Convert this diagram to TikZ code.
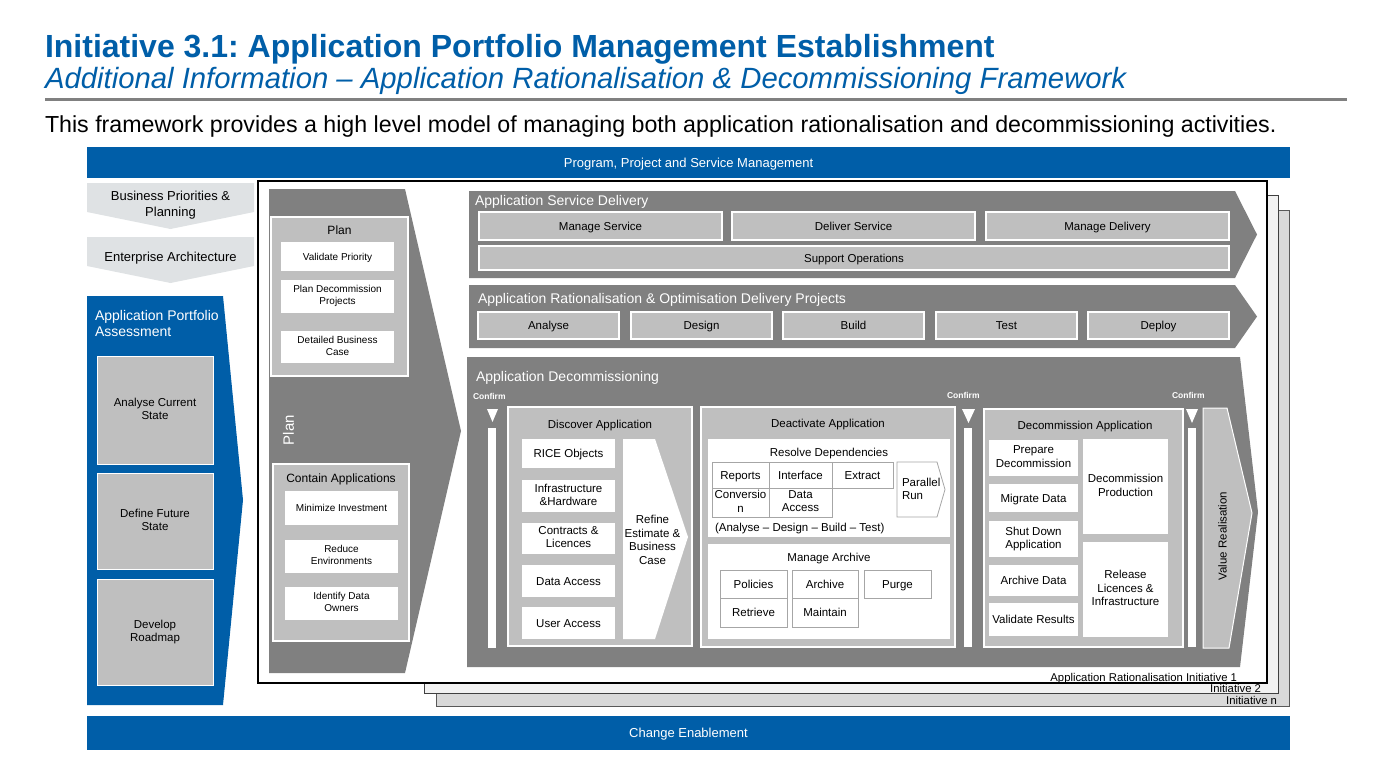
\documentclass[tikz,border=0pt]{standalone}
\usepackage{fontspec}
\setmainfont{Liberation Sans}
\usetikzlibrary{positioning}

\definecolor{apmblue}{RGB}{0,94,168}
\definecolor{chevgrey}{RGB}{128,128,128}
\definecolor{boxgrey}{RGB}{191,191,191}
\definecolor{paleband}{RGB}{223,226,228}
\definecolor{cellline}{RGB}{166,166,166}
\definecolor{initn}{RGB}{217,217,217}
\definecolor{inittwo}{RGB}{242,242,242}

% strut that keeps capitals centred in a node
\newcommand{\capstrut}{\rule[-0.23em]{0pt}{1.176em}}

\begin{document}
\frenchspacing
\begin{tikzpicture}[x=1pt, y=-1pt,
  every node/.style={inner sep=0pt, outer sep=0pt},
  txt/.style={font=\fontsize{11.5}{13.5}\selectfont, align=center, text=black,
    execute at begin node=\capstrut, execute at end node=\capstrut},
  smalltxt/.style={font=\fontsize{10}{12}\selectfont, align=center, text=black,
    execute at begin node=\capstrut, execute at end node=\capstrut},
  chevhead/.style={font=\fontsize{14}{16.5}\selectfont, text=white, anchor=west,
    execute at begin node=\capstrut},
  card/.style={fill=white, txt},
  smallcard/.style={fill=white, smalltxt, minimum width=113pt},
  greybox/.style={fill=boxgrey, draw=white, line width=1.2pt},
  cell/.style={fill=white, draw=cellline, line width=0.8pt, txt},
  banner/.style={fill=apmblue, text=white, font=\fontsize{13}{15}\selectfont, minimum width=1203pt,
    execute at begin node=\capstrut},
  confirmlbl/.style={font=\bfseries\fontsize{8.5}{10}\selectfont, text=white, anchor=west},
  initlbl/.style={font=\fontsize{11.3}{13}\selectfont, anchor=base east}
]
\useasboundingbox (0,0) rectangle (1380,756);

% heading
\node[anchor=base west, text=apmblue, font=\bfseries\fontsize{32}{38}\selectfont] (title) at (45,57)
  {Initiative 3.1: Application Portfolio Management Establishment};
\node[anchor=base west, text=apmblue, font=\itshape\fontsize{29.3}{34}\selectfont] (subtitle) at (45,88)
  {Additional Information – Application Rationalisation \& Decommissioning Framework};
\draw[chevgrey, line width=3.5pt] (45,99.5) -- (1347,99.5);
\node[anchor=base west, font=\fontsize{23.2}{27}\selectfont] (intro) at (45,132)
  {This framework provides a high level model of managing both application rationalisation and decommissioning activities.};

% banners
\node[banner, minimum height=31pt] (ppsm) at (688.5,162.5) {Program, Project and Service Management};
\node[banner, minimum height=34pt] (change) at (688.5,733) {Change Enablement};

% left column
\fill[paleband] (87,183) -- (254,183) -- (254,212) -- (170.5,229) -- (87,212) -- cycle;
\node[txt, font=\fontsize{13}{16}\selectfont] (bpp) at (170.5,205) {Business Priorities \&\\Planning};
\fill[paleband] (87,237) -- (254,237) -- (254,266) -- (170.5,283) -- (87,266) -- cycle;
\node[txt, font=\fontsize{13}{16}\selectfont] (ea) at (170.5,257) {Enterprise Architecture};

\fill[apmblue] (87,296) -- (223,296) -- (243,500) -- (223,705) -- (87,705) -- cycle;
\node[anchor=north west, align=left, text=white, font=\fontsize{14}{16.5}\selectfont] (apa) at (95,310)
  {Application Portfolio\\Assessment};
\node[greybox, txt, minimum width=116pt, minimum height=108pt, line width=1pt] (current) at (155,410) {Analyse Current\\State};
\node[greybox, txt, minimum width=116pt, minimum height=96pt, line width=1pt] (future) at (155,521) {Define Future\\State};
\node[greybox, txt, minimum width=116pt, minimum height=106pt, line width=1pt] (roadmap) at (155,632) {Develop\\Roadmap};

% initiative stack
\draw[fill=initn, draw=black!65, line width=1pt] (436,210) rectangle (1289,706);
\draw[fill=inittwo, draw=black!75, line width=1pt] (424,195) rectangle (1278,693);
\draw[fill=white, draw=black, line width=1.2pt] (258,181) rectangle (1267,683);
\node[initlbl] (initnlbl) at (1277,704) {Initiative n};
\node[initlbl] (init2lbl) at (1261,692) {Initiative 2};
\node[initlbl] (init1lbl) at (1237,681) {Application Rationalisation Initiative 1};

% plan chevron
\fill[chevgrey] (269,189) -- (405,189) -- (461,431) -- (405,673) -- (269,673) -- cycle;
\node[rotate=90, text=white, font=\fontsize{15}{18}\selectfont] (plantag) at (288.5,430) {Plan};
\node[greybox, minimum width=137pt, minimum height=159pt] (planbox) at (339.5,296.5) {};
\node[txt, font=\fontsize{12}{14}\selectfont] (planhead) at (339.5,230) {Plan};
\node[smallcard, minimum height=29pt] (validate) at (337.5,256.5) {Validate Priority};
\node[smallcard, minimum height=33pt] (plandecom) at (337.5,296.5) {Plan Decommission\\Projects};
\node[smallcard, minimum height=32pt] (bizcase) at (337.5,347) {Detailed Business\\Case};
\node[greybox, minimum width=136pt, minimum height=177pt] (containbox) at (341,552.5) {};
\node[txt, font=\fontsize{12}{14}\selectfont] (containhead) at (341,478) {Contain Applications};
\node[smallcard, minimum height=34pt] (mininv) at (341.5,508) {Minimize Investment};
\node[smallcard, minimum height=33pt] (reduce) at (341.5,556.5) {Reduce\\Environments};
\node[smallcard, minimum height=33pt] (owners) at (341.5,603.5) {Identify Data\\Owners};

% application service delivery
\fill[chevgrey] (469,191) -- (1235,191) -- (1257,234.5) -- (1235,278) -- (469,278) -- cycle;
\node[chevhead] (asd) at (475,200) {Application Service Delivery};
\node[greybox, txt, minimum width=243pt, minimum height=28pt] (mservice) at (600.5,226) {Manage Service};
\node[greybox, txt, minimum width=243pt, minimum height=28pt] (dservice) at (853.5,226) {Deliver Service};
\node[greybox, txt, minimum width=243pt, minimum height=28pt] (mdelivery) at (1107.5,226) {Manage Delivery};
\node[greybox, txt, minimum width=750pt, minimum height=24pt] (supops) at (854,258) {Support Operations};

% rationalisation and optimisation projects
\fill[chevgrey] (469,285) -- (1235,285) -- (1257,316.5) -- (1235,348) -- (469,348) -- cycle;
\node[chevhead] (arodp) at (478,298) {Application Rationalisation \& Optimisation Delivery Projects};
\node[greybox, txt, minimum width=141pt, minimum height=27pt] (analyse) at (548.5,325.5) {Analyse};
\node[greybox, txt, minimum width=141pt, minimum height=27pt] (design) at (701.5,325.5) {Design};
\node[greybox, txt, minimum width=141pt, minimum height=27pt] (build) at (853.5,325.5) {Build};
\node[greybox, txt, minimum width=141pt, minimum height=27pt] (test) at (1006.5,325.5) {Test};
\node[greybox, txt, minimum width=141pt, minimum height=27pt] (deploy) at (1158.5,325.5) {Deploy};

% application decommissioning
\fill[chevgrey] (467,357) -- (1240,357) -- (1258,512) -- (1240,667) -- (467,667) -- cycle;
\node[chevhead] (adecom) at (476,376) {Application Decommissioning};
\node[confirmlbl] (conf1) at (473,396) {Confirm};
\node[confirmlbl] (conf2) at (947,395) {Confirm};
\node[confirmlbl] (conf3) at (1172,395) {Confirm};
\fill[white] (487,409) -- (498,409) -- (492.5,422) -- cycle;
\fill[white] (488,428) rectangle (496,648);
\fill[white] (962,409) -- (975,409) -- (968.5,423) -- cycle;
\fill[white] (964,428) rectangle (972,647);
\fill[white] (1186,409) -- (1198,409) -- (1192,423) -- cycle;
\fill[white] (1188,428) rectangle (1196,647);

% discover
\node[greybox, minimum width=184pt, minimum height=239pt] (discover) at (600,526.5) {};
\node[txt] (discoverhead) at (600,424) {Discover Application};
\node[card, minimum width=93pt, minimum height=29pt] (rice) at (568.5,453.5) {RICE Objects};
\node[card, minimum width=93pt, minimum height=32pt] (infra) at (568.5,496) {Infrastructure\\\&Hardware};
\node[card, minimum width=93pt, minimum height=31pt] (contracts) at (568.5,538.5) {Contracts \&\\Licences};
\node[card, minimum width=93pt, minimum height=32pt] (dataacc) at (568.5,581) {Data Access};
\node[card, minimum width=93pt, minimum height=32pt] (useracc) at (568.5,623) {User Access};
\fill[white] (623,439) -- (655,439) -- (688,537) -- (655,639) -- (623,639) -- cycle;
\node[txt] (refine) at (652.5,541) {Refine\\Estimate \&\\Business\\Case};

% deactivate
\node[greybox, minimum width=254pt, minimum height=240pt] (deactivate) at (828,527) {};
\node[txt] (deactivatehead) at (828,423) {Deactivate Application};
\node[fill=white, minimum width=242pt, minimum height=98pt] (resolve) at (829,488) {};
\node[txt] (resolvehead) at (829,452) {Resolve Dependencies};
\node[cell, minimum width=57pt, minimum height=26pt] (reports) at (740.5,475) {Reports};
\node[cell, minimum width=63pt, minimum height=26pt] (interface) at (800.5,475) {Interface};
\node[cell, minimum width=61pt, minimum height=26pt] (extract) at (862.5,475) {Extract};
\node[cell, minimum width=57pt, minimum height=29pt] (conversion) at (740.5,502.5) {Conversio\\n};
\node[cell, minimum width=63pt, minimum height=29pt] (depdata) at (800.5,502.5) {Data\\Access};
\filldraw[fill=white, draw=cellline, line width=0.8pt] (897,462) -- (937,462) -- (945,489.5) -- (937,517) -- (897,517) -- cycle;
\node[txt, align=left, anchor=west] (parallel) at (902,490) {Parallel\\Run};
\node[txt, anchor=west] (adbt) at (715,527) {(Analyse – Design – Build – Test)};
\node[fill=white, minimum width=242pt, minimum height=95pt] (archive) at (829,591.5) {};
\node[txt] (archivehead) at (829,557) {Manage Archive};
\node[cell, minimum width=67pt, minimum height=28pt] (policies) at (753.5,584) {Policies};
\node[cell, minimum width=67pt, minimum height=29pt] (retrieve) at (753.5,612.5) {Retrieve};
\node[cell, minimum width=66pt, minimum height=28pt] (archivecell) at (825,584) {Archive};
\node[cell, minimum width=66pt, minimum height=29pt] (maintain) at (825,612.5) {Maintain};
\node[cell, minimum width=67pt, minimum height=28pt] (purge) at (897.5,584) {Purge};

% decommission
\node[greybox, minimum width=199pt, minimum height=238pt] (decommission) at (1083.5,528) {};
\node[txt] (decommissionhead) at (1085,425) {Decommission Application};
\node[card, minimum width=89pt, minimum height=36pt] (prepare) at (1033.5,458) {Prepare\\Decommission};
\node[card, minimum width=89pt, minimum height=28pt] (migrate) at (1033.5,498) {Migrate Data};
\node[card, minimum width=89pt, minimum height=36pt] (shutdown) at (1033.5,539) {Shut Down\\Application};
\node[card, minimum width=89pt, minimum height=31pt] (archivedata) at (1033.5,580.5) {Archive Data};
\node[card, minimum width=89pt, minimum height=33pt] (validateres) at (1033.5,619.5) {Validate Results};
\node[card, minimum width=85pt, minimum height=95pt] (production) at (1125.5,486.5) {Decommission\\Production};
\node[card, minimum width=85pt, minimum height=95pt] (release) at (1125.5,589.5) {Release\\Licences \&\\Infrastructure};

% value realisation
\filldraw[fill=boxgrey, draw=white, line width=1pt] (1203,408) -- (1227,408) -- (1252,513) -- (1229,648) -- (1203,648) -- cycle;
\node[txt, rotate=90] (value) at (1222.5,536) {Value Realisation};

\end{tikzpicture}
\end{document}
